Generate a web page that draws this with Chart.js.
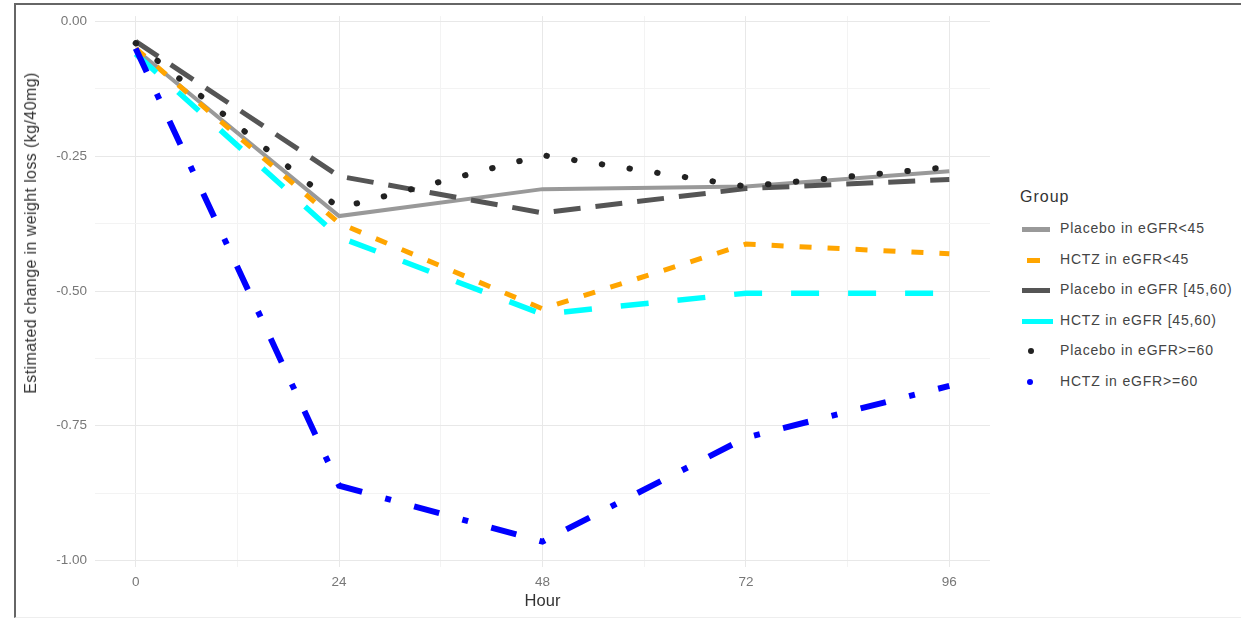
<!DOCTYPE html>
<html>
<head>
<meta charset="utf-8">
<script src="https://cdn.jsdelivr.net/npm/chart.js@4/dist/chart.umd.min.js"></script>
<style>
  html, body { margin: 0; padding: 0; background: #fff; }
  body { width: 1241px; height: 619px; position: relative; overflow: hidden; font-family: "Liberation Sans", Arial, sans-serif; }
  #frame { position: absolute; left: 14px; top: 3px; right: -5px; bottom: 1px; border-top: 2px solid #666; border-left: 2px solid #666; border-bottom: 1px solid #eee; }
  #wrap { position: absolute; left: 16px; top: 0px; width: 990px; height: 617px; }
  #ytitle { position: absolute; left: 31px; top: 233px; transform: translate(-50%, -50%) rotate(-90deg); white-space: nowrap; font-size: 16px; letter-spacing: 0.4px; color: #333; }
  #legend { position: absolute; left: 1020px; top: 188px; color: #444; }
  #legend .title { font-size: 16px; letter-spacing: 1px; color: #333; margin-bottom: 12px; }
  #legend .row { height: 30.6px; position: relative; font-size: 14px; letter-spacing: 0.8px; }
  #legend .key { position: absolute; top: 9px; height: 5px; }
  #legend .dot { position: absolute; top: 8px; width: 6px; height: 6px; border-radius: 50%; }
  #legend .lbl { position: absolute; left: 40px; top: 2px; white-space: nowrap; }
</style>
</head>
<body>
<div id="frame"></div>
<div id="wrap"><canvas id="chart"></canvas></div>
<div id="ytitle">Estimated change in weight loss (kg/40mg)</div>
<div id="legend"></div>
<script>
// Data
const hours = [0, 24, 48, 72, 96];
const xTicks = [0, 12, 24, 36, 48, 60, 72, 84, 96];
const yTicks = [-1, -0.875, -0.75, -0.625, -0.5, -0.375, -0.25, -0.125, 0];

const placeboLt45 = [-0.052, -0.361, -0.311, -0.306, -0.278];
const hctzLt45 = [-0.050, -0.374, -0.533, -0.413, -0.431];
const placebo4560 = [-0.037, -0.287, -0.355, -0.310, -0.293];
const hctz4560 = [-0.060, -0.400, -0.543, -0.504, -0.504];
const placeboGe60 = [-0.040, -0.346, -0.248, -0.306, -0.270];
const hctzGe60 = [-0.050, -0.861, -0.965, -0.772, -0.676];

const groups = [
    { label: 'Placebo in eGFR<45', data: placeboLt45, color: '#999999', width: 4, dash: [], cap: 'butt', key: { left: 2, width: 28 } },
    { label: 'HCTZ in eGFR<45', data: hctzLt45, color: '#FFA500', width: 5, dash: [12, 16], cap: 'butt', key: { left: 7, width: 13 } },
    { label: 'Placebo in eGFR [45,60)', data: placebo4560, color: '#555555', width: 5, dash: [27, 15], cap: 'butt', key: { left: 2, width: 28 } },
    { label: 'HCTZ in eGFR [45,60)', data: hctz4560, color: '#00FFFF', width: 5.5, dash: [28, 29], cap: 'butt', key: { left: 2, width: 31 } },
    { label: 'Placebo in eGFR>=60', data: placeboGe60, color: '#222222', width: 6, dash: [0.5, 27.5], cap: 'round', key: { dot: 8 } },
    { label: 'HCTZ in eGFR>=60', data: hctzGe60, color: '#0000FF', width: 6, dash: [26, 24, 6, 24], cap: 'butt', key: { dot: 7 } }
];

const datasets = groups.map((g, i) => ({
    label: g.label,
    data: g.data.map((v, j) => ({ x: hours[j], y: v })),
    borderColor: g.color,
    backgroundColor: g.color,
    borderWidth: g.width,
    borderDash: g.dash,
    borderCapStyle: g.cap,
    pointRadius: 0,
    tension: 0,
    fill: false,
    order: groups.length - i
}));

// legend (html)
const legendEl = document.getElementById('legend');
let html = '<div class="title">Group</div>';
groups.forEach(g => {
    let key;
    if (g.key.dot) {
        key = `<div class="dot" style="left:${g.key.dot}px;background:${g.color}"></div>`;
    } else {
        key = `<div class="key" style="left:${g.key.left}px;width:${g.key.width}px;background:${g.color}"></div>`;
    }
    html += `<div class="row">${key}<div class="lbl">${g.label}</div></div>`;
});
legendEl.innerHTML = html;

const tickFont = { family: '"Liberation Sans", Arial, sans-serif', size: 13.5 };

new Chart(document.getElementById('chart'), {
    type: 'line',
    data: { datasets },
    options: {
        responsive: true,
        maintainAspectRatio: false,
        animation: false,
        layout: { padding: { top: 1, right: 16, left: 0, bottom: 0 } },
        plugins: { legend: { display: false }, tooltip: { enabled: false } },
        scales: {
            x: {
                type: 'linear',
                min: -4.8,
                max: 100.8,
                afterBuildTicks: axis => { axis.ticks = xTicks.map(v => ({ value: v })); },
                afterFit: scale => { scale.height = 50; },
                border: { display: false },
                grid: {
                    drawTicks: false,
                    color: ctx => (ctx.tick && ctx.tick.value % 24 === 0) ? '#e8e8e8' : '#f3f3f3'
                },
                ticks: {
                    padding: 7,
                    color: '#777',
                    font: tickFont,
                    autoSkip: false,
                    maxRotation: 0,
                    callback: v => (v % 24 === 0 ? String(v) : '')
                },
                title: {
                    display: true,
                    text: 'Hour',
                    color: '#333',
                    font: { family: '"Liberation Sans", Arial, sans-serif', size: 16.5 },
                    padding: { top: 0, bottom: 6 }
                }
            },
            y: {
                type: 'linear',
                min: -1.012,
                max: 0.01,
                afterBuildTicks: axis => { axis.ticks = yTicks.map(v => ({ value: v })); },
                afterFit: scale => { scale.width = 79; },
                border: { display: false },
                grid: {
                    drawTicks: false,
                    color: ctx => (ctx.tick && Math.abs(ctx.tick.value * 4 - Math.round(ctx.tick.value * 4)) < 1e-6) ? '#e8e8e8' : '#f3f3f3'
                },
                ticks: {
                    padding: 8,
                    color: '#777',
                    font: tickFont,
                    autoSkip: false,
                    callback: v => (Math.abs(v * 4 - Math.round(v * 4)) < 1e-6 ? v.toFixed(2) : '')
                }
            }
        }
    }
});
</script>
</body>
</html>
